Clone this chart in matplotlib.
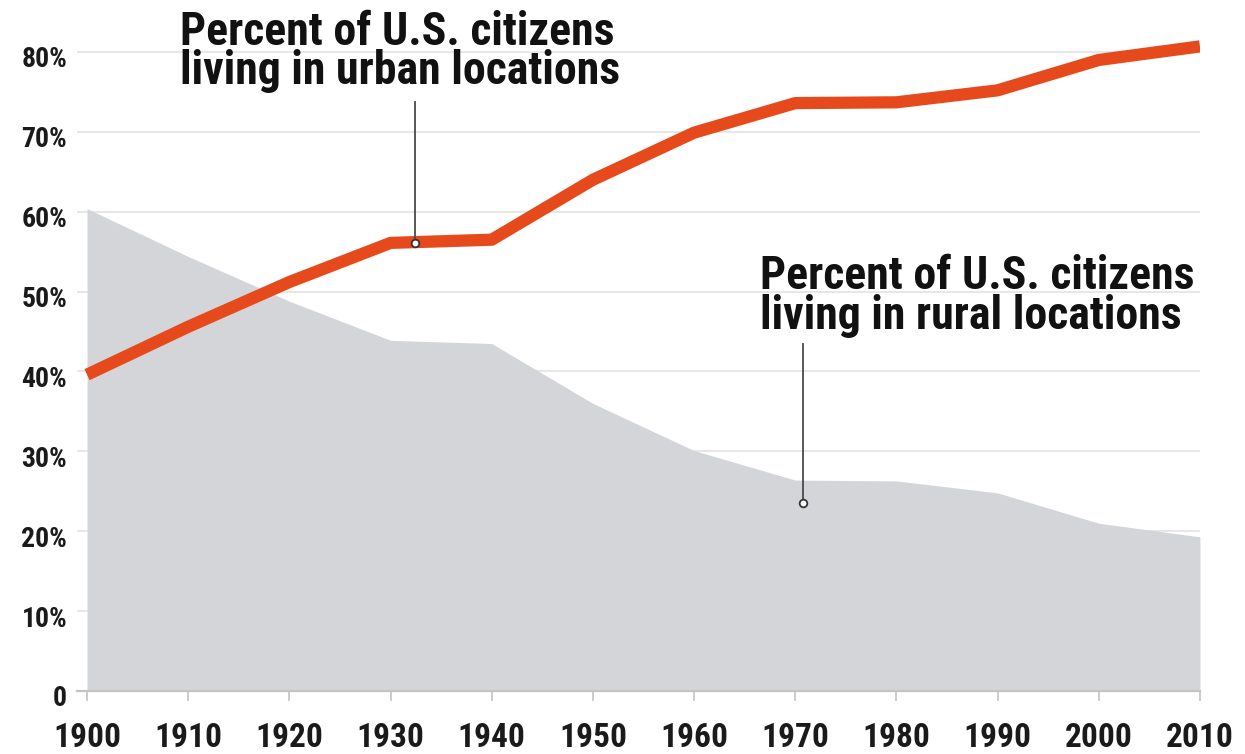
import matplotlib
matplotlib.use("Agg")
import matplotlib.pyplot as plt
from matplotlib.transforms import ScaledTranslation

# Census years and share of population (%)
years = [1900, 1910, 1920, 1930, 1940, 1950, 1960, 1970, 1980, 1990, 2000, 2010]
urban = [39.6, 45.6, 51.2, 56.1, 56.5, 64.0, 69.9, 73.6, 73.7, 75.2, 79.0, 80.7]
rural = [60.4, 54.4, 48.8, 43.9, 43.5, 36.0, 30.1, 26.4, 26.3, 24.8, 21.0, 19.3]

y_ticks = [0, 10, 20, 30, 40, 50, 60, 70, 80]
y_labels = ["0", "10%", "20%", "30%", "40%", "50%", "60%", "70%", "80%"]

urban_note = "Percent of U.S. citizens\nliving in urban locations"
rural_note = "Percent of U.S. citizens\nliving in rural locations"

plt.rcParams["font.family"] = ["Roboto Condensed", "Archivo Narrow",
                               "IBM Plex Sans Condensed", "Open Sans Condensed",
                               "DejaVu Sans"]

fig = plt.figure(figsize=(12.45, 7.54), dpi=100)
ax = fig.add_axes([0.0618, 0.0836, 0.902, 0.911])

ax.fill_between(years, 0, rural, color="#d3d5d8", linewidth=0, zorder=1)
ax.plot(years, urban, color="#e64a1c", linewidth=8.8, solid_capstyle="butt",
        solid_joinstyle="round", zorder=3)

ax.set_xlim(1899.0, 2010.0)
ax.set_ylim(0, 86)

ax.set_yticks(y_ticks)
ax.set_yticklabels(y_labels)
ax.set_xticks(years)
ax.set_xticklabels([str(y) for y in years])

for y in y_ticks[1:]:
    ax.axhline(y, color="#e3e3e3", linewidth=1.2, zorder=0)

for side in ["top", "right", "left"]:
    ax.spines[side].set_visible(False)
ax.spines["bottom"].set_color("#c4c4c4")
ax.spines["bottom"].set_linewidth(1.6)
ax.spines["bottom"].set_zorder(2)

ax.tick_params(axis="x", length=7, width=1.2, color="#c4c4c4", pad=15,
               labelsize=24)
ax.tick_params(axis="y", length=0, pad=7, labelsize=20)
for lab in ax.get_xticklabels() + ax.get_yticklabels():
    lab.set_fontweight("black")
    lab.set_color("#1a1a1a")
# y labels sit a little below their gridlines
shift = ScaledTranslation(0, -5 / 100, fig.dpi_scale_trans)
for lab in ax.get_yticklabels():
    lab.set_transform(lab.get_transform() + shift)


def callout(x, y, y_top, text, tx, ty):
    # leader line from the label down to a small open circle on the series
    ax.plot([x, x], [y_top, y], color="#4a4a4a", linewidth=1.3, zorder=4)
    ax.plot([x], [y], marker="o", markersize=5.5, markerfacecolor="white",
            markeredgecolor="#333333", markeredgewidth=1.3, zorder=5)
    ax.text(tx, ty, text, fontsize=33, fontweight="black", color="#111111",
            ha="left", va="top", linespacing=0.87, zorder=6)


callout(1932.4, 56.1, 73.7, urban_note, 1909.2, 85.3)
callout(1970.8, 23.5, 43.5, rural_note, 1966.5, 54.7)

fig.savefig("out.png", dpi=100, facecolor="white")
